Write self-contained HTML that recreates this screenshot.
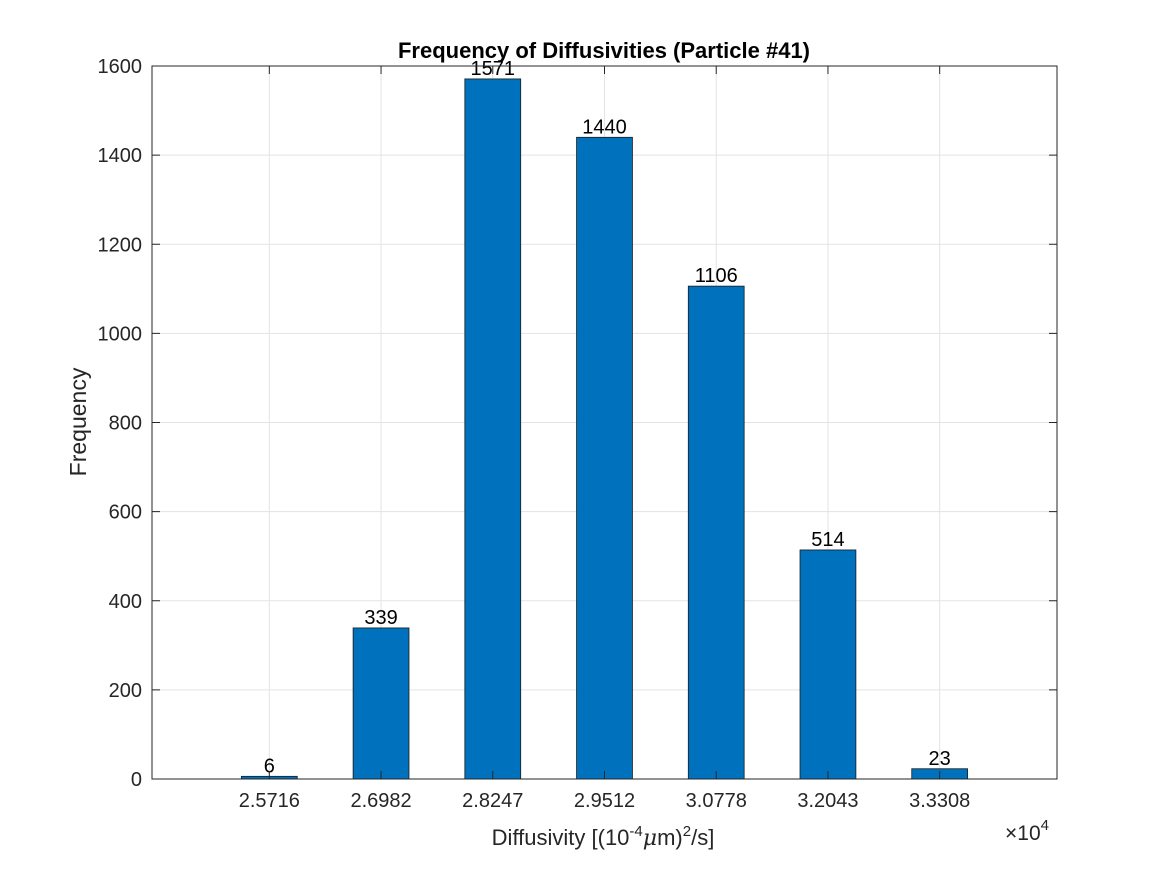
<!DOCTYPE html>
<html><head><meta charset="utf-8"><style>
body{margin:0;background:#fff}
svg{display:block;font-family:"Liberation Sans",Arial,sans-serif}
</style></head><body>
<svg id="chart" width="1167" height="875"></svg>
<script>
const categories=["2.5716","2.6982","2.8247","2.9512","3.0778","3.2043","3.3308"];
const counts=[6,339,1571,1440,1106,514,23];
const yTicks=[0,200,400,600,800,1000,1200,1400,1600];

const L=152,R=1057,T=66,B=779,yMax=1600;
const n=categories.length;
const xs=i=>L+(i+1.05)*(R-L)/(n+1.1);
const ys=v=>B-(v/yMax)*(B-T);
const step=(R-L)/(n+1.1);
const svg=document.getElementById('chart');
const NS='http://www.w3.org/2000/svg';
function mk(tag,attrs,parent){const e=document.createElementNS(NS,tag);for(const k in attrs)e.setAttribute(k,attrs[k]);(parent||svg).appendChild(e);return e;}

mk('rect',{x:L,y:T,width:R-L,height:B-T,fill:'#fff'});
const grid=mk('g',{});


yTicks.forEach(v=>{mk('line',{x1:L,x2:R,y1:ys(v),y2:ys(v),stroke:'#e3e3e3','stroke-width':1},grid);});
categories.forEach((c,i)=>{mk('line',{x1:xs(i),x2:xs(i),y1:T,y2:B,stroke:'#e3e3e3','stroke-width':1},grid);});

counts.forEach((v,i)=>{
  const r=mk('rect',{x:xs(i)-step*0.25,y:ys(v),width:step*0.5,height:B-ys(v),fill:'#0072bd',stroke:'#1a1a1a','stroke-width':0.8});
  
  
  const t=mk('text',{x:xs(i),y:ys(v)-4,'text-anchor':'middle','font-size':20,fill:'#000'});
  t.textContent=v;
  
  
});

mk('rect',{x:L,y:T,width:R-L,height:B-T,fill:'none',stroke:'#262626','stroke-width':1});
yTicks.forEach(v=>{
  mk('line',{x1:L,x2:L+8,y1:ys(v),y2:ys(v),stroke:'#262626'});
  mk('line',{x1:R,x2:R-8,y1:ys(v),y2:ys(v),stroke:'#262626'});
  const t=mk('text',{x:L-10,y:ys(v)+7,'text-anchor':'end','font-size':20,fill:'#262626'});
  t.textContent=v;
  
  
});
categories.forEach((c,i)=>{
  mk('line',{x1:xs(i),x2:xs(i),y1:B,y2:B-8,stroke:'#262626'});
  mk('line',{x1:xs(i),x2:xs(i),y1:T,y2:T+8,stroke:'#262626'});
  const t=mk('text',{x:xs(i),y:B+28,'text-anchor':'middle','font-size':20,fill:'#262626'});
  t.textContent=c;
  
  
});
</script>
<svg style="position:absolute;left:0;top:0" width="1167" height="875">
<text x="604" y="58" text-anchor="middle" font-size="22" font-weight="bold" font-family="Liberation Sans,sans-serif" fill="#000">Frequency of Diffusivities (Particle #41)</text>
<text transform="translate(86,422) rotate(-90)" text-anchor="middle" font-size="23" font-family="Liberation Sans,sans-serif" fill="#262626">Frequency</text>
<text x="603" y="845" text-anchor="middle" font-size="22" font-family="Liberation Sans,sans-serif" fill="#262626">Diffusivity [(10<tspan dy="-9" font-size="15">-4</tspan><tspan dy="9" font-family="DejaVu Serif,serif" font-style="italic">μ</tspan>m)<tspan dy="-9" font-size="15">2</tspan><tspan dy="9">/s]</tspan></text>
<text x="1005" y="840" font-size="21" font-family="Liberation Sans,sans-serif" fill="#262626">×10<tspan dy="-10" font-size="15">4</tspan></text>
</svg>
</body></html>
